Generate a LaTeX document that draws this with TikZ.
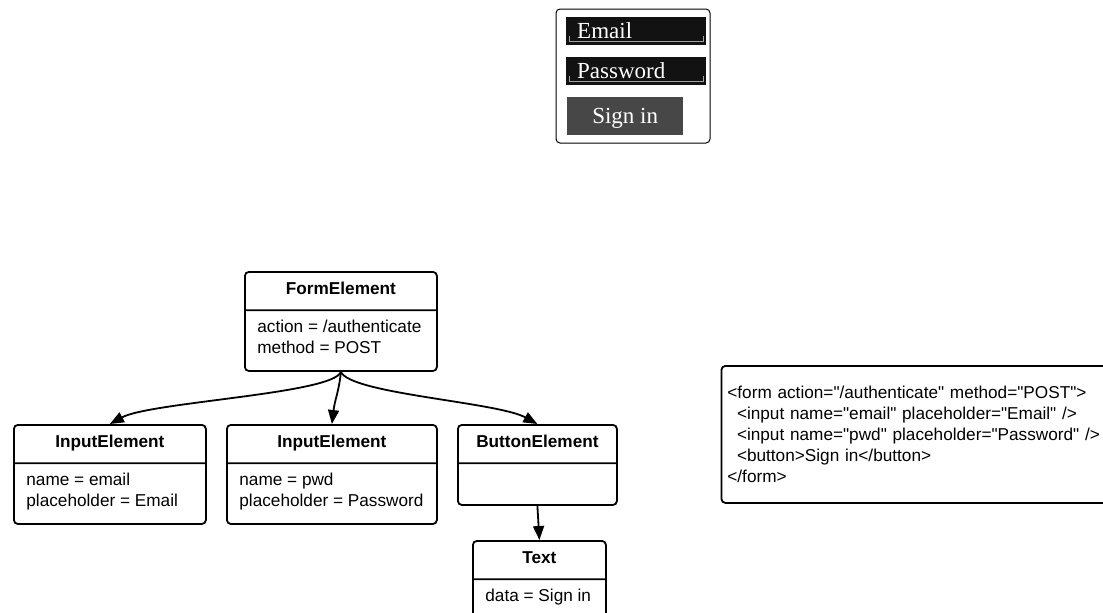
\documentclass[tikz,border=0pt]{standalone}
\usepackage{fontspec}
\setmainfont{Liberation Sans}[Ligatures=TeXOff]
\newfontfamily\widgetfont{Liberation Serif}
\usetikzlibrary{calc,shapes.multipart,arrows.meta}

\definecolor{fielddark}{HTML}{121212}
\definecolor{buttongray}{HTML}{474747}
\definecolor{bracketgray}{HTML}{A0A0A0}

% title part and attribute part of a class box
\newcommand{\umltitle}[2]{\parbox[t][36.5pt][t]{#1}{\centering\rule{0pt}{21.5pt}\bfseries #2}}
\newcommand{\umlbody}[3]{\parbox[t][#2][t]{#1}{\raggedright\leftskip=12.5pt\rule{0pt}{21.5pt}#3}}

\begin{document}
\begin{tikzpicture}[x=1pt, y=1pt,
  cls/.style = {draw, line width=1.8pt, rounded corners=4pt, rectangle split, rectangle split parts=2, inner sep=0pt, anchor=north west, font=\fontsize{17.2}{21}\selectfont},
  link/.style = {line width=1.8pt, -{Triangle[length=14pt,width=11pt]}},
  field/.style = {fill=fielddark, text=white, font=\widgetfont\fontsize{23}{23}\selectfont, anchor=north west, minimum height=28pt, text width=118pt, inner xsep=11pt, inner ysep=0pt, align=left},
  signbtn/.style = {fill=buttongray, text=white, font=\widgetfont\fontsize{23}{23}\selectfont, anchor=north west, minimum width=116pt, minimum height=38pt, text depth=0pt, inner sep=0pt},
  bracket/.style = {draw=bracketgray, line width=0.8pt},
  code/.style = {draw, line width=1.8pt, rounded corners=4pt, anchor=north west, text width=390pt, align=left, minimum height=137pt, inner xsep=6pt, inner ysep=17pt, font=\fontsize{17.2}{21}\selectfont}]
  \useasboundingbox (0,0) rectangle (1103,-613);
  \clip (0,0) rectangle (1103,-613);

  % the rendered form
  \node[draw, line width=1pt, rounded corners=4pt, minimum width=154pt, minimum height=134pt, anchor=north west, inner sep=0pt] (frame) at (555.5,-8.5) {};
  \node[field] (email) at (566,-16.5) {Email};
  \node[field] (pwd) at (566,-56.5) {Password};
  \node[signbtn] (signin) at (567,-97) {Sign in};
  \draw[bracket] ([shift={(3,9)}]email.south west) |- ([shift={(-3,4)}]email.south east) -- ++(0,5);
  \draw[bracket] ([shift={(3,9)}]pwd.south west) |- ([shift={(-3,4)}]pwd.south east) -- ++(0,5);

  % the element tree
  \node[cls] (form) at (244,-271) {\umltitle{192pt}{FormElement}\nodepart{two}\umlbody{192pt}{59pt}{action = /authenticate\\method = POST}};
  \node[cls] (in1) at (13,-424) {\umltitle{192pt}{InputElement}\nodepart{two}\umlbody{192pt}{59pt}{name = email\\placeholder = Email}};
  \node[cls] (in2) at (226,-424) {\umltitle{210pt}{InputElement}\nodepart{two}\umlbody{210pt}{59pt}{name = pwd\\placeholder = Password}};
  \node[cls] (btn) at (457,-424) {\umltitle{159pt}{ButtonElement}\nodepart{two}\umlbody{159pt}{40pt}{}};
  \node[cls] (txt) at (472,-540) {\umltitle{133pt}{Text}\nodepart{two}\umlbody{133pt}{59pt}{data = Sign in}};

  \draw[link] (form.south) .. controls +(-8,-22) and +(40,22) .. (in1.north);
  \draw[link] (form.south) .. controls +(-2,-20) and +(3,25) .. (in2.north);
  \draw[link] (form.south) .. controls +(10,-22) and +(-40,22) .. (btn.north);
  \draw[link] (btn.south) -- (txt.north);

  % the markup
  \node[code] (html) at (720.5,-365) {<form action="/authenticate" method="POST">\\
    \hspace*{9.6pt}<input name="email" placeholder="Email" />\\
    \hspace*{9.6pt}<input name="pwd" placeholder="Password" />\\
    \hspace*{9.6pt}<button>Sign in</button>\\
    </form>};
\end{tikzpicture}
\end{document}
